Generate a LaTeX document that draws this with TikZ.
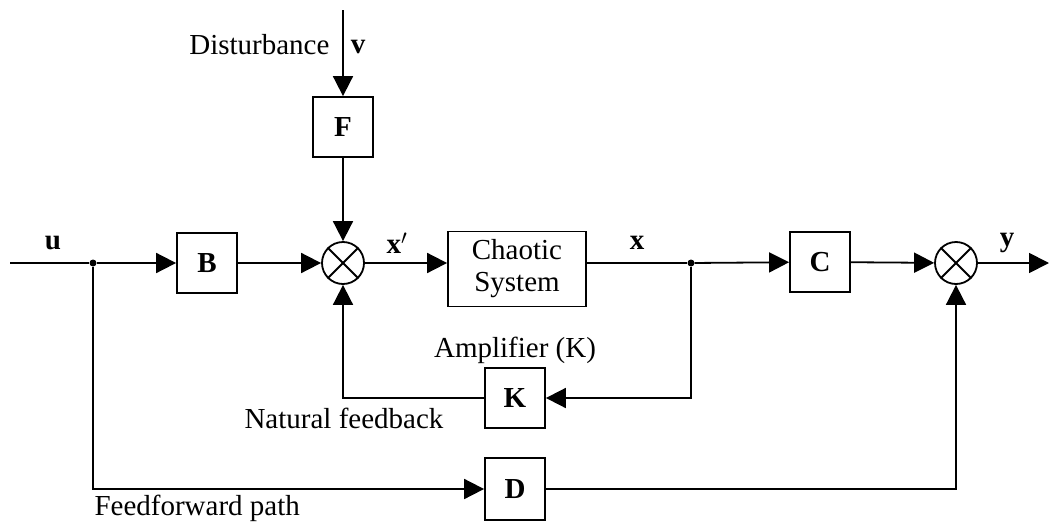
\documentclass[tikz,border=0pt]{standalone}
\usepackage{fontspec}
\setmainfont{Liberation Serif}
\usetikzlibrary{arrows.meta}
\begin{document}
\begin{tikzpicture}[x=1pt,y=-1pt,
  every node/.style={font=\fontsize{29}{32}\selectfont},
  blk/.style={draw,line width=1.8pt,minimum width=60pt,minimum height=60pt,inner sep=0pt,font=\fontsize{29}{33}\selectfont\bfseries},
  sumj/.style={draw,circle,line width=1.8pt,minimum size=42pt,inner sep=0pt},
  arr/.style={-{Triangle[length=20pt,width=20pt]}},
  ln/.style={line width=1.8pt},
  lbl/.style={font=\fontsize{29}{33}\selectfont\bfseries},
  dot/.style={circle,fill,inner sep=0pt,minimum size=7pt}]
\useasboundingbox (0,0) rectangle (1049,522);
\coordinate (in) at (10,263);
\coordinate (out) at (1049,263);
\coordinate (top) at (343,10);
\node[dot] (d1) at (93,263) {};
\node[dot] (d2) at (691,263) {};
\node[blk] (B) at (207,263) {B};
\node[sumj] (S1) at (343,263) {};
\node[blk] (F) at (343,127) {F};
\node[draw,line width=1.8pt,minimum width=138pt,minimum height=75pt,align=center,inner sep=0pt] (CS) at (517,269) {Chaotic\\System};
\node[blk] (C) at (820,262) {C};
\node[sumj] (S2) at (956,263) {};
\node[blk] (K) at (515,398) {K};
\node[blk,minimum height=62pt] (D) at (515,489) {D};
\draw[ln] (S1.north west) -- (S1.south east);
\draw[ln] (S1.north east) -- (S1.south west);
\draw[ln] (S2.north west) -- (S2.south east);
\draw[ln] (S2.north east) -- (S2.south west);
\draw[ln] (in) -- (d1);
\draw[ln,arr] (d1) -- (B);
\draw[ln,arr] (B) -- (S1);
\draw[ln,arr] (top) -- (F);
\draw[ln,arr] (F) -- (S1);
\draw[ln,arr] (S1) -- (S1 -| CS.west);
\draw[ln] (CS.east |- d2) -- (d2);
\draw[ln,arr] (d2) -- (C);
\draw[ln,arr] (C) -- (S2);
\draw[ln,arr] (S2) -- (out);
\draw[ln,arr] (d2) |- (K);
\draw[ln,arr] (K) -| (S1);
\draw[ln,arr] (d1) |- (D);
\draw[ln,arr] (D) -| (S2);
\node[lbl] (lu) at (53,243) {u};
\node[lbl] (lxp) at (397,243) {x$'$};
\node[lbl] (lx) at (637,243) {x};
\node[lbl] (ly) at (1007,243) {y};
\node[lbl] (lv) at (358,47) {v};
\node[anchor=east] (ldist) at (333,45) {Disturbance};
\node (lamp) at (515,350) {Amplifier (K)};
\node[anchor=west] (lnat) at (241,418) {Natural feedback};
\node[anchor=west] (lff) at (91,508) {Feedforward path};
\end{tikzpicture}
\end{document}
